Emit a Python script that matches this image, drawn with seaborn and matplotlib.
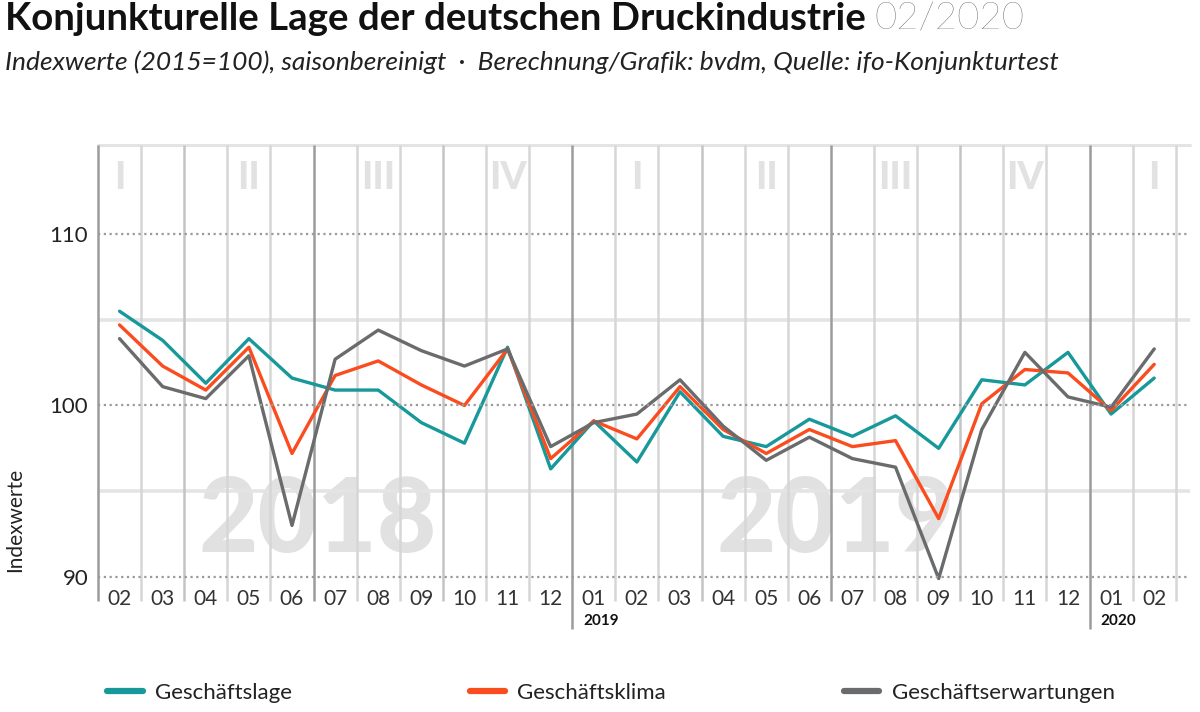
import numpy as np
import pandas as pd
import matplotlib
matplotlib.use('Agg')
import matplotlib.pyplot as plt
import seaborn as sns

# Werte (Index 2015=100)
monate = ['02', '03', '04', '05', '06', '07', '08', '09', '10', '11', '12',
          '01', '02', '03', '04', '05', '06', '07', '08', '09', '10', '11', '12',
          '01', '02']
monatsnummer = [2, 3, 4, 5, 6, 7, 8, 9, 10, 11, 12,
                1, 2, 3, 4, 5, 6, 7, 8, 9, 10, 11, 12, 1, 2]
geschaeftslage = [105.5, 103.8, 101.3, 103.9, 101.6, 100.9, 100.9, 99.0, 97.8, 103.4, 96.3,
                  99.1, 96.7, 100.8, 98.2, 97.6, 99.2, 98.2, 99.4, 97.5, 101.5, 101.2, 103.1,
                  99.5, 101.6]
geschaeftsklima = [104.7, 102.3, 100.9, 103.4, 97.2, 101.75, 102.6, 101.2, 100.0, 103.3, 96.9,
                   99.1, 98.05, 101.1, 98.6, 97.2, 98.6, 97.6, 97.95, 93.4, 100.1, 102.1, 101.9,
                   99.7, 102.4]
geschaeftserwartungen = [103.9, 101.1, 100.4, 102.9, 93.0, 102.7, 104.4, 103.2, 102.3, 103.3, 97.6,
                         99.0, 99.5, 101.5, 98.8, 96.8, 98.15, 96.9, 96.4, 89.9, 98.6, 103.1, 100.5,
                         99.9, 103.3]
quartale = ['I', 'II', 'III', 'IV', 'I', 'II', 'III', 'IV', 'I']
quartal_pos = [0, 3, 6, 9, 12, 15, 18, 21, 24]
jahre = ['2019', '2020']
jahr_pos = [11, 23]
wasserzeichen = ['2018', '2019']
wasserzeichen_pos = [4.6, 16.6]

reihen = ['Geschäftslage', 'Geschäftsklima', 'Geschäftserwartungen']
farben = {'Geschäftslage': '#17989a', 'Geschäftsklima': '#fa4c1e', 'Geschäftserwartungen': '#6a6b6d'}

n = len(monate)
df = pd.DataFrame({
    'idx': list(range(n)) * 3,
    'wert': geschaeftslage + geschaeftsklima + geschaeftserwartungen,
    'reihe': [r for r in reihen for _ in range(n)],
})

sns.set_theme(style='white')
plt.rcParams['font.family'] = ['Lato', 'DejaVu Sans']

fig = plt.figure(figsize=(12, 7.12), dpi=100)
ax = fig.add_axes([98 / 1200, 1 - 582 / 712, (1190 - 98) / 1200, (582 - 145) / 712])

y_unten, y_oben = 89.7, 115.2
ax.set_xlim(-0.5, 24.83)
ax.set_ylim(y_unten, y_oben)

# horizontale Hilfslinien
for y in [90, 100, 110]:
    ax.axhline(y, color='#9a9a9a', lw=1.6, ls=(0, (1, 1.6)), zorder=2, clip_on=False)
for y in [95, 105]:
    ax.axhline(y, color='#e4e4e4', lw=2.6, zorder=1)
ax.axhline(y_oben, color='#e4e4e4', lw=2.2, zorder=1, clip_on=False)

# vertikale Monatslinien
for k in range(n + 1):
    x = k - 0.5
    m = monatsnummer[k] if k < n else 3
    unten = 88.6
    if k == 0 or m in (1, 7):
        col = '#9c9c9c'
        if m == 1 and k > 0:
            unten = 86.95
    elif m in (4, 10):
        col = '#c4c4c4'
    else:
        col = '#d6d6d6'
    ax.vlines(x, unten, y_oben, colors=col, lw=1.8, zorder=1, clip_on=False)

# Wasserzeichen und Quartale
for txt, xp in zip(wasserzeichen, wasserzeichen_pos):
    ax.text(xp, 93.2, txt, ha='center', va='center', fontsize=74, fontweight='black',
            color='#e1e1e1', zorder=0)
for txt, xp in zip(quartale, quartal_pos):
    ax.text(xp, 113.3, txt, ha='center', va='center', fontsize=27, fontweight='black',
            color='#e2e2e2', zorder=0)

# Datenreihen
sns.lineplot(data=df, x='idx', y='wert', hue='reihe', hue_order=reihen, palette=farben,
             linewidth=2.4, ax=ax, legend=True)
handles, labels = ax.get_legend_handles_labels()
ax.get_legend().remove()
for line, z in zip(ax.lines[:3], [4, 5, 3]):
    line.set_zorder(z)
    line.set_solid_joinstyle('miter')

for s in ax.spines.values():
    s.set_visible(False)
ax.grid(False)
ax.set_xlabel('')
ax.set_ylabel('')
ax.set_xticks(range(n))
ax.set_xticklabels(monate, fontsize=15, color='#333333')
ax.set_yticks([90, 100, 110])
ax.set_yticklabels(['90', '100', '110'], fontsize=16, color='#222222')
ax.tick_params(axis='x', length=0, pad=5)
ax.tick_params(axis='y', length=0, pad=7)

for txt, xp in zip(jahre, jahr_pos):
    ax.text(xp - 0.25, 87.45, txt, ha='left', va='center', fontsize=11, fontweight='bold',
            color='#111111')

fig.text(15 / 1200, 1 - 520 / 712, 'Indexwerte', rotation=90, ha='center', va='center',
         fontsize=15, color='#222222')

# Titel
t = fig.text(5 / 1200, 1 - 19 / 712, 'Konjunkturelle Lage der deutschen Druckindustrie',
             ha='left', va='center', fontsize=27.6, fontweight='bold', color='#111111')
fig.canvas.draw()
bb = t.get_window_extent()
fig.text((bb.x1 + 9) / 1200, 1 - 19 / 712, '02/2020', ha='left', va='center', fontsize=27.6,
         fontweight='light', color='#555555')
fig.text(5 / 1200, 1 - 62 / 712,
         'Indexwerte (2015=100), saisonbereinigt  ·  Berechnung/Grafik: bvdm, Quelle: ifo-Konjunkturtest',
         ha='left', va='center', fontsize=19, style='italic', color='#222222')

leg = fig.legend(handles, labels, loc='center', bbox_to_anchor=(0.509, 1 - 693 / 712), ncol=3,
                 frameon=False, fontsize=16, handlelength=1.6, handletextpad=0.55,
                 columnspacing=8.0)
for h in leg.get_lines():
    h.set_linewidth(4.5)
for tx in leg.get_texts():
    tx.set_color('#222222')

fig.savefig('out.png', dpi=100)
